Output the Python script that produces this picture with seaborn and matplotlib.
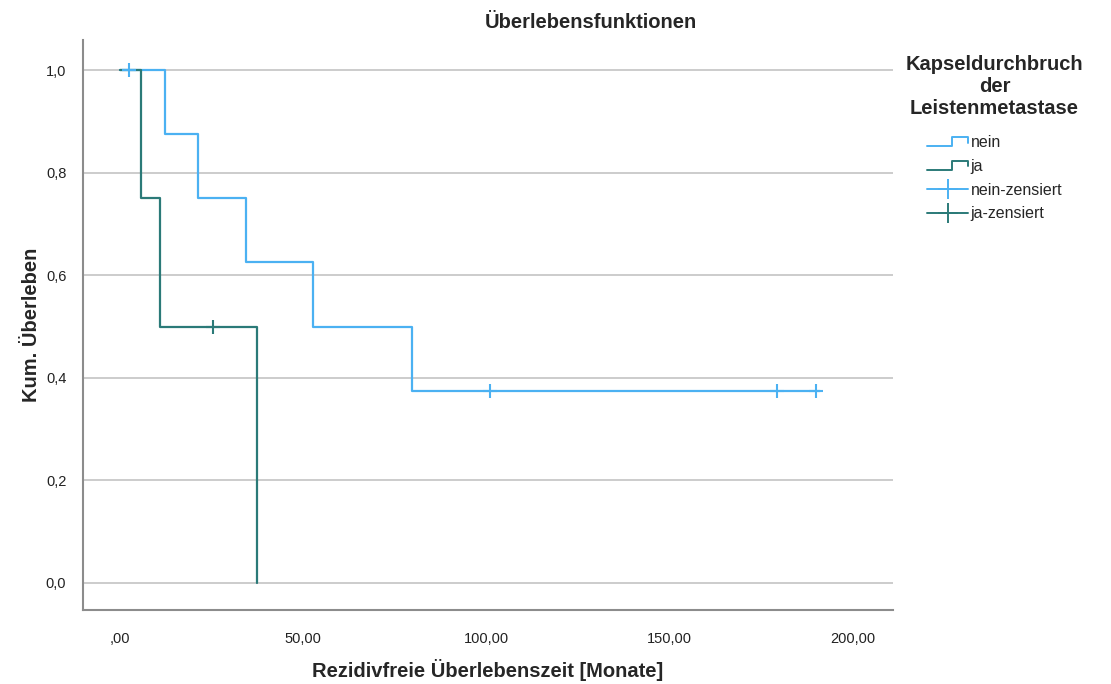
import pandas as pd
import matplotlib
matplotlib.use('Agg')
import matplotlib.pyplot as plt
import seaborn as sns
from matplotlib.lines import Line2D
from matplotlib.legend_handler import HandlerBase

# Kaplan-Meier step data
nein_time = [0, 12.5, 21.4, 34.6, 52.7, 79.8, 191.0]
nein_surv = [1.0, 0.875, 0.75, 0.625, 0.5, 0.375, 0.375]
ja_time = [0, 5.7, 10.9, 37.4]
ja_surv = [1.0, 0.75, 0.5, 0.0]

# censored observations
nein_cens_time = [2.5, 101.0, 179.4, 190.0]
nein_cens_surv = [1.0, 0.375, 0.375, 0.375]
ja_cens_time = [25.4]
ja_cens_surv = [0.5]

groups = ['nein', 'ja']
x_ticks = [0, 50, 100, 150, 200]
x_tick_labels = [',00', '50,00', '100,00', '150,00', '200,00']
y_ticks = [0.0, 0.2, 0.4, 0.6, 0.8, 1.0]
y_tick_labels = ['0,0', '0,2', '0,4', '0,6', '0,8', '1,0']

col_nein = '#4BB1F2'
col_ja = '#2B7A78'
palette = {'nein': col_nein, 'ja': col_ja}

steps = pd.concat([
    pd.DataFrame({'Zeit': nein_time, 'Surv': nein_surv, 'Gruppe': 'nein'}),
    pd.DataFrame({'Zeit': ja_time, 'Surv': ja_surv, 'Gruppe': 'ja'}),
])
cens = pd.concat([
    pd.DataFrame({'Zeit': nein_cens_time, 'Surv': nein_cens_surv, 'Gruppe': 'nein'}),
    pd.DataFrame({'Zeit': ja_cens_time, 'Surv': ja_cens_surv, 'Gruppe': 'ja'}),
])

sns.set_style('white')
plt.rcParams['font.family'] = ['Liberation Sans', 'DejaVu Sans']

fig = plt.figure(figsize=(11.11, 6.84), dpi=100)
ax = fig.add_axes([0.0747, 0.108, 0.729, 0.833])

for g in groups:
    d = steps[steps.Gruppe == g]
    sns.lineplot(data=d, x='Zeit', y='Surv', color=palette[g], sort=False,
                 estimator=None, drawstyle='steps-post', linewidth=1.6,
                 ax=ax, legend=False, zorder=3)
    c = cens[cens.Gruppe == g]
    sns.scatterplot(data=c, x='Zeit', y='Surv', color=palette[g], marker='+',
                    s=110, linewidth=1.5, ax=ax, legend=False, zorder=4)

ax.set_xlim(-10, 211)
ax.set_ylim(-0.053, 1.058)
ax.set_xticks(x_ticks)
ax.set_xticklabels(x_tick_labels)
ax.set_yticks(y_ticks)
ax.set_yticklabels(y_tick_labels)
ax.tick_params(axis='both', length=0, labelsize=10.5, colors='#222222', pad=12)
ax.tick_params(axis='x', pad=16)
ax.yaxis.grid(True, color='#C8C8C8', linewidth=1.3)
ax.set_axisbelow(True)
for s in ['top', 'right']:
    ax.spines[s].set_visible(False)
for s in ['left', 'bottom']:
    ax.spines[s].set_color('#8C8C8C')
    ax.spines[s].set_linewidth(1.5)

ax.set_xlabel('Rezidivfreie Überlebenszeit [Monate]', fontsize=14.5,
              fontweight='bold', va='center')
ax.set_ylabel('Kum. Überleben', fontsize=14.5, fontweight='bold', va='center')
ax.xaxis.set_label_coords(0.5, -0.105)
ax.yaxis.set_label_coords(-0.063, 0.5)
fig.text(591 / 1111, 1 - 22 / 684, 'Überlebensfunktionen', ha='center',
         va='center', fontsize=14.5, fontweight='bold')


class StepHandler(HandlerBase):
    # small step shape like the SPSS legend
    def create_artists(self, legend, orig, xd, yd, w, h, fontsize, trans):
        y0 = yd + h * 0.1
        y1 = yd + h * 0.9
        xs = [xd, xd + w * 0.6, xd + w * 0.6, xd + w, xd + w]
        ys = [y0, y0, y1, y1, y0 + h * 0.3]
        ln = Line2D(xs, ys, color=orig.get_color(), linewidth=1.4, transform=trans)
        return [ln]


h_nein = Line2D([], [], color=col_nein)
h_ja = Line2D([], [], color=col_ja)
h_nc = Line2D([], [], color=col_nein, marker='+', markersize=15, linewidth=1.4,
              markeredgewidth=1.4)
h_jc = Line2D([], [], color=col_ja, marker='+', markersize=15, linewidth=1.4,
              markeredgewidth=1.4)
leg = fig.legend([h_nein, h_ja, h_nc, h_jc],
                 ['nein', 'ja', 'nein-zensiert', 'ja-zensiert'],
                 handler_map={h_nein: StepHandler(), h_ja: StepHandler()},
                 loc='upper left', bbox_to_anchor=(893 / 1111, 1 - 42 / 684),
                 frameon=False, fontsize=11.5, handlelength=2.6, handletextpad=0.15,
                 labelspacing=0.55, borderpad=0.3,
                 title='Kapseldurchbruch\nder\nLeistenmetastase',
                 title_fontproperties={'weight': 'bold', 'size': 14.5})
leg._legend_box.align = 'center'
leg._legend_box.sep = 12
leg.get_title().set_multialignment('center')
leg.get_title().set_linespacing(1.22)

fig.savefig('out.png', dpi=100, facecolor='white')
